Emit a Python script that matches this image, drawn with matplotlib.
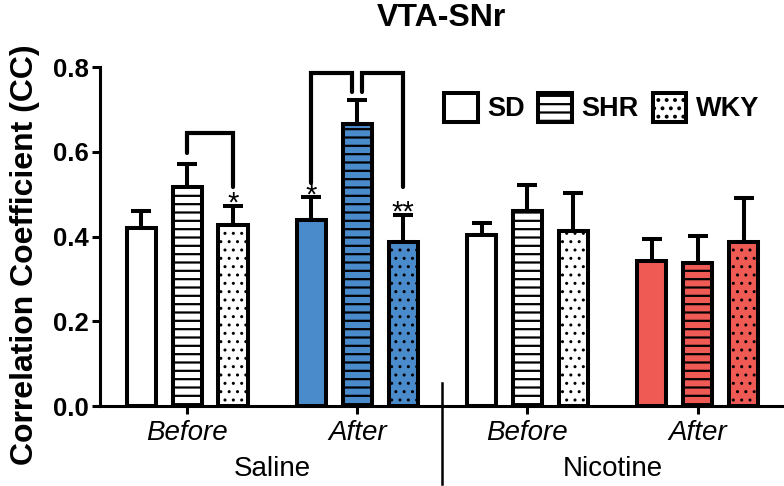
import matplotlib
matplotlib.use("Agg")
import matplotlib.pyplot as plt
from matplotlib.patches import Patch
import numpy as np

plt.rcParams['font.family'] = ['Liberation Sans', 'DejaVu Sans']
plt.rcParams['hatch.linewidth'] = 1.6

# ---- data ----
strains = ["SD", "SHR", "WKY"]
groups = ["Before", "After", "Before", "After"]
treatments = ["Saline", "Nicotine"]
saline_before = [0.420, 0.517, 0.427]
saline_before_err = [0.040, 0.054, 0.045]
saline_after = [0.439, 0.665, 0.387]
saline_after_err = [0.054, 0.057, 0.063]
nicotine_before = [0.404, 0.460, 0.413]
nicotine_before_err = [0.028, 0.061, 0.090]
nicotine_after = [0.342, 0.337, 0.387]
nicotine_after_err = [0.052, 0.064, 0.104]
yticks = [0.0, 0.2, 0.4, 0.6, 0.8]

means = [saline_before, saline_after, nicotine_before, nicotine_after]
errs = [saline_before_err, saline_after_err, nicotine_before_err, nicotine_after_err]

BLUE = "#4A8BCB"
RED = "#F05A55"
group_colors = ["white", BLUE, "white", RED]
hatches = ["", "--", ".."]
hatch_lws = [1.6, 1.6, 1.0]
offsets = [-0.27, 0.0, 0.27]
width = 0.172

can_hlw = hasattr(Patch, 'set_hatch_linewidth')

fig = plt.figure(figsize=(7.84, 4.86), dpi=100)
ax = fig.add_axes([0.1276, 0.1646, 0.872, 0.6975])

for gi in range(len(groups)):
    for si in range(len(strains)):
        x = gi + offsets[si]
        ax.errorbar(x, means[gi][si], yerr=[[0], [errs[gi][si]]], fmt='none',
                    ecolor='black', elinewidth=2.9, capsize=7.2, capthick=2.9,
                    zorder=1)
        bars = ax.bar(x, means[gi][si], width=width, color=group_colors[gi],
                      edgecolor='black', linewidth=2.9, hatch=hatches[si], zorder=2)
        if can_hlw:
            for b in bars:
                b.set_hatch_linewidth(hatch_lws[si])

# significance brackets (x positions, y positions)
brackets = [
    ([0.0, 0.0, 0.27, 0.27], [0.597, 0.644, 0.644, 0.517]),
    ([0.73, 0.73, 0.97, 0.97], [0.526, 0.786, 0.786, 0.741]),
    ([1.03, 1.03, 1.27, 1.27], [0.741, 0.786, 0.786, 0.517]),
]
for bx, by in brackets:
    ax.plot(bx, by, color='black', lw=3.0, solid_capstyle='round',
            solid_joinstyle='miter', clip_on=False, zorder=3)

stars = [(0.27, 0.478, "*"), (0.73, 0.496, "*"), (1.27, 0.456, "**")]
for sx, sy, st in stars:
    ax.text(sx, sy, st, ha='center', va='center', fontsize=21, zorder=4)

ax.set_xlim(-0.512, 3.506)
ax.set_ylim(0, 0.8)
ax.set_yticks(yticks)
ax.set_yticklabels([f"{v:.1f}" for v in yticks], fontsize=18.5, fontweight='bold')
ax.set_xticks(range(len(groups)))
ax.set_xticklabels(groups, fontsize=20, style='italic')
ax.tick_params(axis='both', width=2.2, length=6, direction='out')
ax.tick_params(axis='x', pad=4)
ax.tick_params(axis='y', pad=2)

for s in ['top', 'right']:
    ax.spines[s].set_visible(False)
for s in ['left', 'bottom']:
    ax.spines[s].set_linewidth(2.2)

# separator line between treatments
trans = matplotlib.transforms.blended_transform_factory(ax.transData, ax.transAxes)
ax.plot([1.5, 1.5], [0.068, -0.23], color='black', lw=1.8, transform=trans,
        clip_on=False)

for ti, t in enumerate(treatments):
    ax.text(0.5 + 2 * ti, -0.185, t, transform=trans, ha='center', va='center',
            fontsize=20)

ax.set_ylabel("Correlation Coefficient (CC)", fontsize=23, fontweight='bold')
ax.yaxis.set_label_coords(-0.088, 0.445)
fig.text(441 / 784, 1 - 26 / 486, "VTA-SNr", ha='center', va='baseline',
         fontsize=23, fontweight='bold')

handles = [Patch(facecolor='white', edgecolor='black', linewidth=2.9, hatch=h)
           for h in hatches]
if can_hlw:
    for h, lw in zip(handles, hatch_lws):
        h.set_hatch_linewidth(lw)
leg = ax.legend(handles, strains, ncol=3, frameon=False, loc='center left',
                bbox_to_anchor=(0.503, 0.88), borderpad=0, borderaxespad=0,
                handlelength=1.25, handleheight=1.25, handletextpad=0.35,
                columnspacing=0.5, prop={'size': 19.5, 'weight': 'bold'})

fig.savefig("out.png", dpi=100)
